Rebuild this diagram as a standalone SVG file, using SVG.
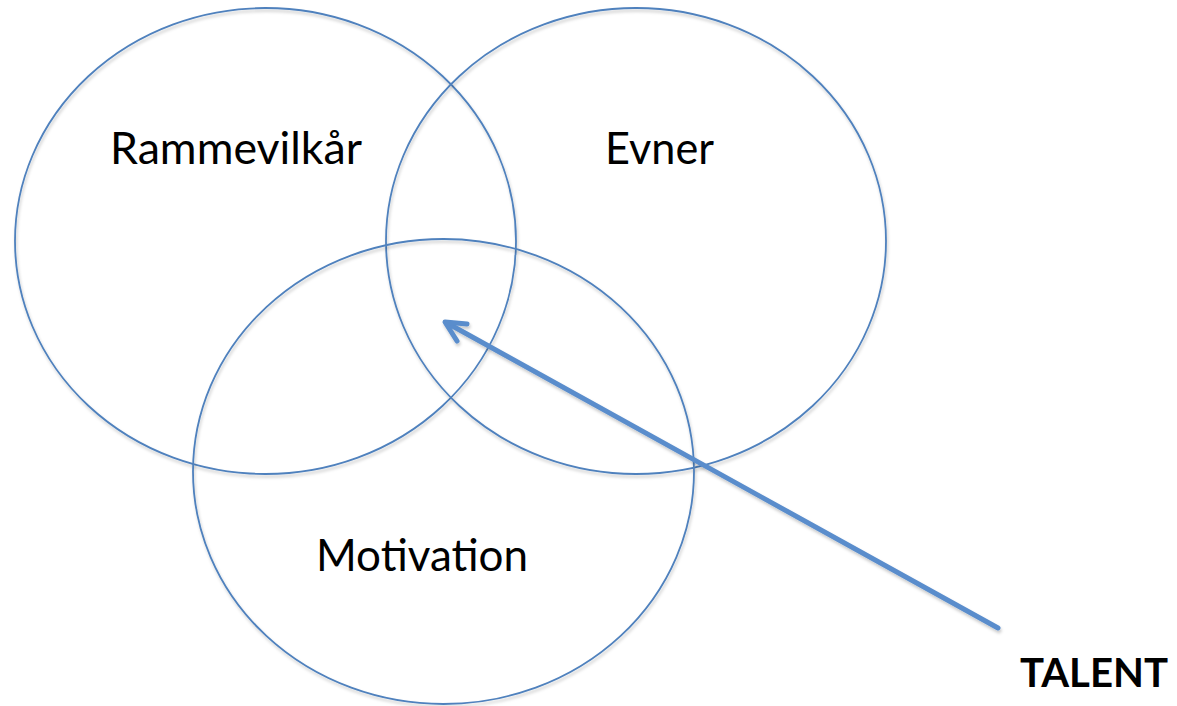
<svg xmlns="http://www.w3.org/2000/svg" width="1177" height="706" viewBox="0 0 1177 706">
  <defs>
    <filter id="shadow" x="-10%" y="-10%" width="120%" height="120%">
      <feDropShadow dx="1" dy="2.5" stdDeviation="1.5" flood-color="#000" flood-opacity="0.22"/>
    </filter>
    <style>
      .circle { fill: none; stroke: #4f81bd; stroke-width: 1.8; }
      .label { font-family: Lato, "Open Sans", "Liberation Sans", sans-serif; font-size: 44px; fill: #000; }
      .bold { font-weight: bold; font-size: 41px; }
      .conn { fill: none; stroke: #5a8dcc; stroke-width: 5; stroke-linecap: round; stroke-linejoin: round; }
    </style>
  </defs>
  <rect width="1177" height="706" fill="#ffffff"/>
  <g id="node-rammevilkar">
    <ellipse class="circle" cx="265.5" cy="241" rx="250.5" ry="233" filter="url(#shadow)"/>
    <text class="label" x="110" y="164" textLength="252" lengthAdjust="spacingAndGlyphs">Rammevilkår</text>
  </g>
  <g id="node-evner">
    <ellipse class="circle" cx="636" cy="241" rx="250" ry="233" filter="url(#shadow)"/>
    <text class="label" x="605" y="164" textLength="109" lengthAdjust="spacingAndGlyphs">Evner</text>
  </g>
  <g id="node-motivation">
    <ellipse class="circle" cx="443.5" cy="471.5" rx="250.5" ry="232.5" filter="url(#shadow)"/>
    <text class="label" x="316" y="571" textLength="212" lengthAdjust="spacingAndGlyphs">Motivation</text>
  </g>
  <g id="node-talent">
    <text class="label bold" x="1020" y="687" textLength="148" lengthAdjust="spacingAndGlyphs">TALENT</text>
  </g>
  <g id="connectors" filter="url(#shadow)">
    <path class="conn" d="M998,628 L447,323"/>
    <path class="conn" d="M467,324 L445,322 L457,341"/>
  </g>
</svg>
